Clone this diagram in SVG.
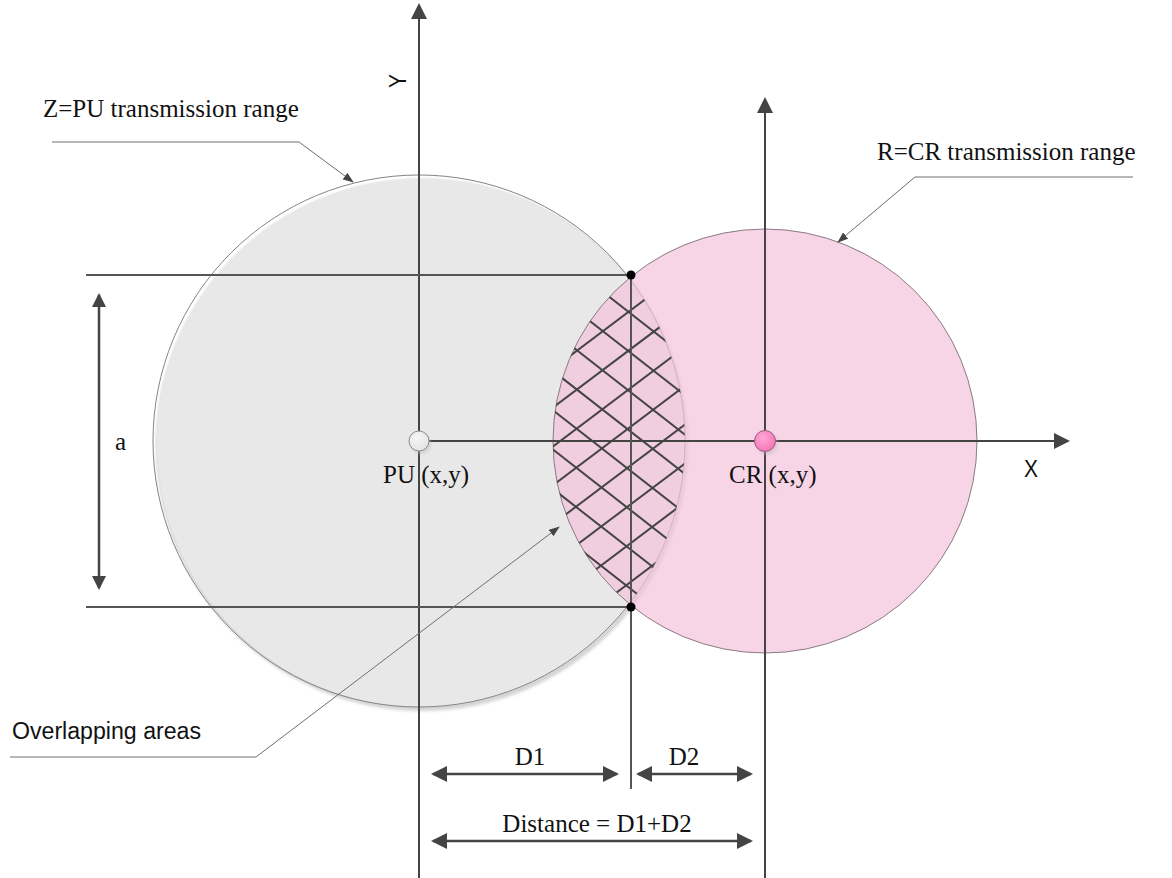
<svg xmlns="http://www.w3.org/2000/svg" width="1172" height="878" viewBox="0 0 1172 878">
<style>
.axis{stroke:#444;stroke-width:2;fill:none}
.guide{stroke:#555;stroke-width:2;fill:none}
.dim{stroke:#444;stroke-width:2.5;fill:none}
.lead{stroke:#6e6e6e;stroke-width:1;fill:none}
.hatch line{stroke:#444;stroke-width:2}
.serif{font-family:"Liberation Serif","Times New Roman",serif;font-size:25px;fill:#111}
.sans{font-family:"Liberation Sans",Arial,sans-serif;fill:#111}
</style>
<defs>
<marker id="ah" viewBox="0 0 16 16" refX="14" refY="8" markerWidth="16" markerHeight="16" markerUnits="userSpaceOnUse" orient="auto-start-reverse">
<path d="M0,0 L16,8 L0,16 z" fill="#444"/>
</marker>
<marker id="ahs" viewBox="0 0 14 14" refX="12" refY="7" markerWidth="14" markerHeight="14" markerUnits="userSpaceOnUse" orient="auto-start-reverse">
<path d="M0,0 L14,7 L0,14 z" fill="#444"/>
</marker>
<marker id="ahl" viewBox="0 0 11 8" refX="10" refY="4" markerWidth="11" markerHeight="8" markerUnits="userSpaceOnUse" orient="auto">
<path d="M0,0 L11,4 L0,8 z" fill="#444"/>
</marker>
<filter id="blur" x="-10%" y="-10%" width="120%" height="120%"><feGaussianBlur stdDeviation="1.5"/></filter>
<radialGradient id="pinkG" cx="40%" cy="35%" r="70%"><stop offset="0" stop-color="#ffa6d6"/><stop offset="1" stop-color="#f574b6"/></radialGradient>
<radialGradient id="grayG" cx="40%" cy="35%" r="70%"><stop offset="0" stop-color="#f6f6f6"/><stop offset="1" stop-color="#e2e2e2"/></radialGradient>
<clipPath id="lens"><path d="M629.3,278.1 A266,266 0 0,1 629.3,603.9 A212,212 0 0,1 629.3,278.1 Z"/></clipPath>
</defs>

<g id="pu-range">
<circle cx="422" cy="445" r="266" fill="#d4d4d4" filter="url(#blur)"/>
<circle cx="421" cy="443" r="264" fill="#e8e8e8"/>
<circle cx="419" cy="441" r="266" fill="none" stroke="#858585" stroke-width="1"/>
</g>

<g id="cr-range">
<circle cx="765" cy="441" r="212" fill="#f4c3db" fill-opacity="0.7" stroke="#8a7a82" stroke-width="1"/>
</g>

<g id="overlap-hatch" class="hatch" clip-path="url(#lens)">
<g transform="translate(620,441) rotate(38)">
<line x1="-250" y1="-138" x2="250" y2="-138"/>
<line x1="-250" y1="-107" x2="250" y2="-107"/>
<line x1="-250" y1="-76" x2="250" y2="-76"/>
<line x1="-250" y1="-45" x2="250" y2="-45"/>
<line x1="-250" y1="-14" x2="250" y2="-14"/>
<line x1="-250" y1="17" x2="250" y2="17"/>
<line x1="-250" y1="48" x2="250" y2="48"/>
<line x1="-250" y1="79" x2="250" y2="79"/>
<line x1="-250" y1="110" x2="250" y2="110"/>
</g>
<g transform="translate(620,441) rotate(-37)">
<line x1="-250" y1="-129" x2="250" y2="-129"/>
<line x1="-250" y1="-98" x2="250" y2="-98"/>
<line x1="-250" y1="-67" x2="250" y2="-67"/>
<line x1="-250" y1="-36" x2="250" y2="-36"/>
<line x1="-250" y1="-5" x2="250" y2="-5"/>
<line x1="-250" y1="26" x2="250" y2="26"/>
<line x1="-250" y1="57" x2="250" y2="57"/>
<line x1="-250" y1="88" x2="250" y2="88"/>
<line x1="-250" y1="119" x2="250" y2="119"/>
</g>
</g>

<g id="connectors">
<line class="axis" x1="419" y1="878" x2="419" y2="5" marker-end="url(#ah)"/>
<line class="axis" x1="765" y1="878" x2="765" y2="99" marker-end="url(#ah)"/>
<line class="axis" x1="429" y1="441" x2="1068" y2="441" marker-end="url(#ah)"/>
<line class="guide" x1="86" y1="275" x2="631" y2="275"/>
<line class="guide" x1="86" y1="607" x2="631" y2="607"/>
<line class="guide" x1="631" y1="275" x2="631" y2="789"/>
<line class="dim" x1="99" y1="295" x2="99" y2="588" marker-start="url(#ahs)" marker-end="url(#ahs)"/>
<line class="dim" x1="433" y1="774" x2="617" y2="774" marker-start="url(#ah)" marker-end="url(#ah)"/>
<line class="dim" x1="638" y1="774" x2="751" y2="774" marker-start="url(#ah)" marker-end="url(#ah)"/>
<line class="dim" x1="433" y1="841" x2="751" y2="841" marker-start="url(#ah)" marker-end="url(#ah)"/>
<path class="lead" d="M52,142 H299 L353,182" marker-end="url(#ahl)"/>
<path class="lead" d="M1133,177 H915 L838,242" marker-end="url(#ahl)"/>
<path class="lead" d="M10,757 H256 L559,527" marker-end="url(#ahl)"/>
</g>

<g id="pu-node">
<circle cx="421" cy="444" r="10" fill="#bbb" opacity="0.5" filter="url(#blur)"/>
<circle cx="419" cy="441" r="10" fill="url(#grayG)" stroke="#8c8c8c" stroke-width="1"/>
</g>
<g id="cr-node">
<circle cx="767" cy="444" r="10.5" fill="#bbb" opacity="0.5" filter="url(#blur)"/>
<circle cx="765" cy="441" r="10.5" fill="url(#pinkG)" stroke="#9a5a7c" stroke-width="1"/>
</g>
<g id="intersections">
<circle cx="631" cy="275" r="4.5" fill="#000"/>
<circle cx="631" cy="607" r="4.5" fill="#000"/>
</g>

<g id="labels">
<text class="serif" x="43" y="117" font-size="25.8">Z=PU transmission range</text>
<text class="serif" x="877" y="160">R=CR transmission range</text>
<text class="serif" x="383" y="483">PU (x,y)</text>
<text class="serif" x="729" y="483">CR (x,y)</text>
<text class="serif" x="115" y="450">a</text>
<text class="serif" x="530" y="765" text-anchor="middle">D1</text>
<text class="serif" x="684" y="765" text-anchor="middle">D2</text>
<text class="serif" x="597" y="832" text-anchor="middle">Distance = D1+D2</text>
<text class="sans" x="1024" y="477" font-size="24" textLength="14" lengthAdjust="spacingAndGlyphs">X</text>
<text class="sans" font-size="24" textLength="14" lengthAdjust="spacingAndGlyphs" transform="translate(406,88) rotate(-90)">Y</text>
<text class="sans" x="12" y="739" font-size="23" textLength="189" lengthAdjust="spacingAndGlyphs">Overlapping areas</text>
</g>
</svg>
